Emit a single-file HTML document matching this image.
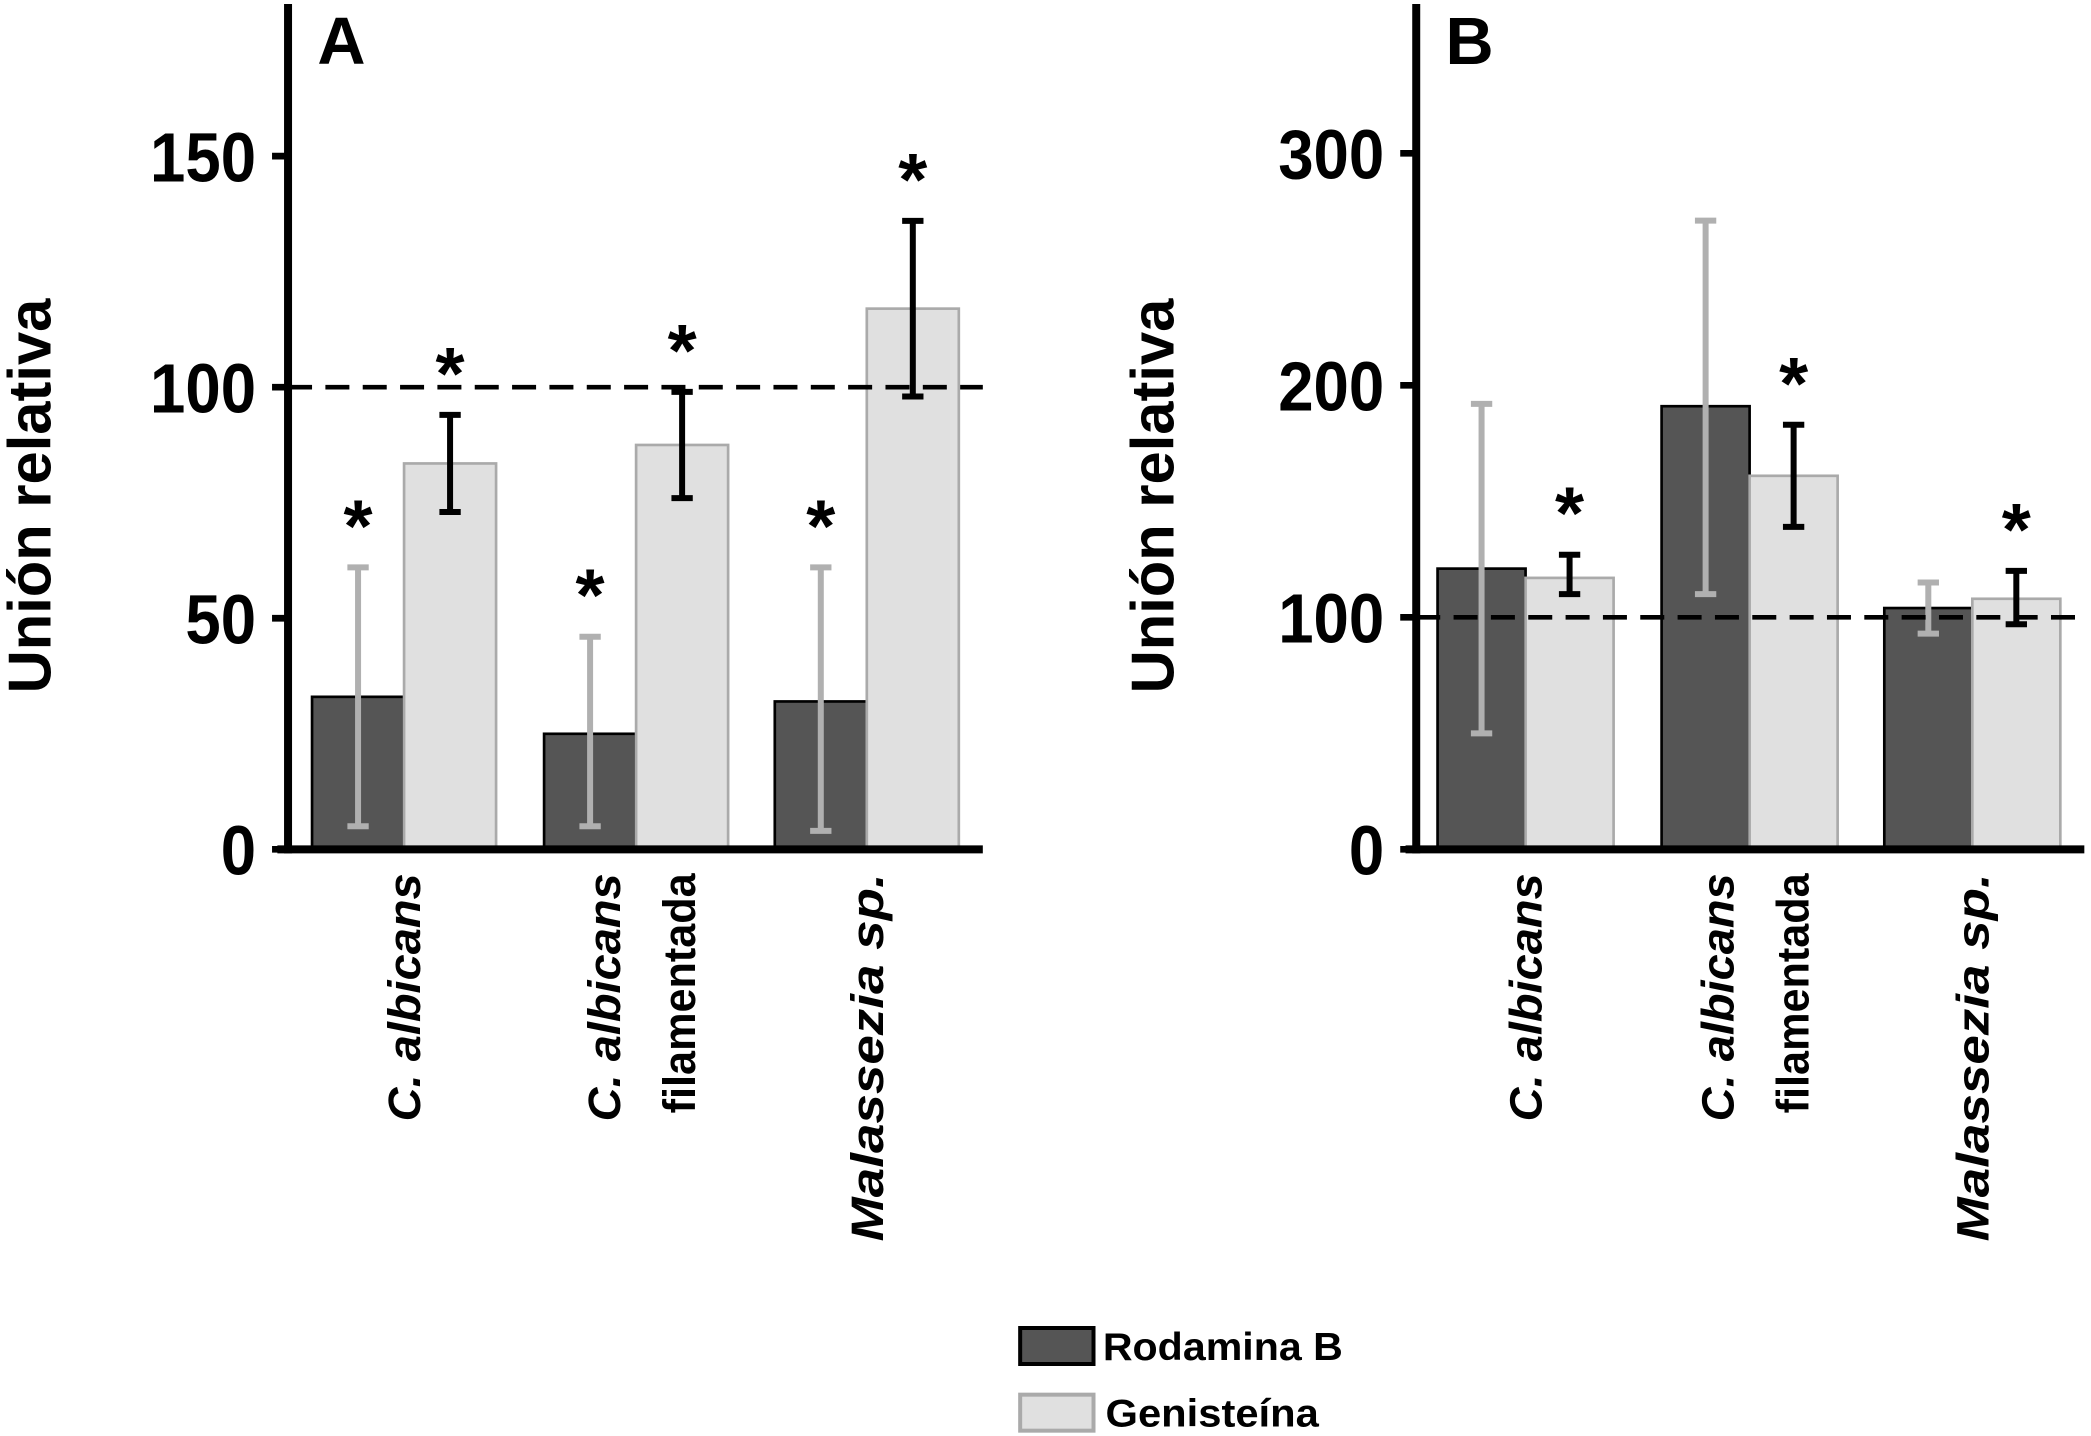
<!DOCTYPE html>
<html><head><meta charset="utf-8"><style>
html,body{margin:0;padding:0;background:#fff;}
svg{display:block;}
text{font-family:"Liberation Sans",Arial,sans-serif;font-weight:bold;fill:#000;}
</style></head><body>
<svg id="chart" width="2091" height="1436" viewBox="0 0 1568 1077" preserveAspectRatio="none" xmlns="http://www.w3.org/2000/svg">
<g id="legend">
  <rect x="765" y="996" width="55" height="27" fill="#555" stroke="#000" stroke-width="3"/>
  <text x="827" y="1020" font-size="29" textLength="180" lengthAdjust="spacingAndGlyphs">Rodamina B</text>
  <rect x="765" y="1046" width="55" height="27" fill="#e0e0e0" stroke="#aaa" stroke-width="3"/>
  <text x="829" y="1070" font-size="29" textLength="160" lengthAdjust="spacingAndGlyphs">Genisteína</text>
</g>
</svg>
<script>
const categories = ["C. albicans", "C. albicans filamentada", "Malassezia sp."];
const seriesNames = ["Rodamina B", "Genisteína"];
const aDark = [33, 25, 32];
const aDarkLo = [5, 5, 4];
const aDarkHi = [61, 46, 61];
const aLight = [83.5, 87.5, 117];
const aLightLo = [73, 76, 98];
const aLightHi = [94, 99, 136];
const aSig = [[true, true], [true, true], [true, true]];
const aTicks = [0, 50, 100, 150];
const bDark = [121, 191, 104];
const bDarkLo = [50, 110, 93];
const bDarkHi = [192, 271, 115];
const bLight = [117, 161, 108];
const bLightLo = [110, 139, 97];
const bLightHi = [127, 183, 120];
const bSig = [[false, true], [false, true], [false, true]];
const bTicks = [0, 100, 200, 300];
const refValue = 100;

const svg = document.getElementById('chart');
const NS = 'http://www.w3.org/2000/svg';
function mk(tag, attrs, parent) {
  const e = document.createElementNS(NS, tag);
  for (const k in attrs) e.setAttribute(k, attrs[k]);
  (parent || svg).appendChild(e);
  return e;
}
const labelLen = {"C. albicans": 186, "filamentada": 180, "Malassezia sp.": 276};

function panel(cfg) {
  const g = mk('g', {});
  
  
  const y = v => cfg.base - (v / cfg.unit) * cfg.unitPx;
  const series = [
    {vals: cfg.dark, lo: cfg.darkLo, hi: cfg.darkHi, fill: '#555', stroke: '#000', err: '#b0b0b0', name: 'rodamina'},
    {vals: cfg.light, lo: cfg.lightLo, hi: cfg.lightHi, fill: '#e0e0e0', stroke: '#aaa', err: '#000', name: 'genisteina'}
  ];
  categories.forEach((c, i) => {
    series.forEach((s, j) => {
      const x0 = cfg.groupX[i] + j * cfg.barW;
      const yt = y(s.vals[i]);
      const r = mk('rect', {x: x0, y: yt, width: cfg.barW, height: cfg.base - yt, fill: s.fill, stroke: s.stroke, 'stroke-width': 2}, g);
      
      
      const cx = x0 + cfg.barW / 2;
      const eg = mk('g', {stroke: s.err, 'stroke-width': 4.5, fill: 'none'}, g);
      
      
      mk('line', {x1: cx, x2: cx, y1: y(s.lo[i]), y2: y(s.hi[i])}, eg);
      mk('line', {x1: cx - 8, x2: cx + 8, y1: y(s.lo[i]), y2: y(s.lo[i])}, eg);
      mk('line', {x1: cx - 8, x2: cx + 8, y1: y(s.hi[i]), y2: y(s.hi[i])}, eg);
      if (cfg.sig[i][j]) {
        const t = mk('text', {x: cx, y: y(s.hi[i]) - 12, 'font-size': 56, 'text-anchor': 'middle'}, g);
        
        
        t.textContent = '*';
      }
    });
    const lines = c === 'C. albicans filamentada' ? [['C. albicans', true], ['filamentada', false]] : [[c, true]];
    const gx = cfg.groupX[i] + cfg.barW;
    lines.forEach((ln, k) => {
      const lx = gx + (lines.length === 1 ? 12 : -12 + k * 56);
      const t = mk('text', {x: 0, y: 0, 'font-size': 34, 'text-anchor': 'end',
        textLength: labelLen[ln[0]], lengthAdjust: 'spacingAndGlyphs',
        transform: 'translate(' + lx + ',' + (cfg.base + 18) + ') rotate(-90)'}, g);
      if (ln[1]) t.setAttribute('font-style', 'italic');
      
      
      t.textContent = ln[0];
    });
  });
  const rl = mk('line', {x1: cfg.axisX, x2: cfg.axisEnd, y1: y(refValue), y2: y(refValue), stroke: '#000', 'stroke-width': 3.5, 'stroke-dasharray': '18,10'}, g);
  
  
  const ya = mk('line', {x1: cfg.axisX, x2: cfg.axisX, y1: 3, y2: cfg.base + 3, stroke: '#000', 'stroke-width': 6}, g);
  
  
  const xa = mk('line', {x1: cfg.axisX - 8, x2: cfg.axisEnd, y1: cfg.base, y2: cfg.base, stroke: '#000', 'stroke-width': 6}, g);
  
  
  cfg.ticks.forEach(v => {
    mk('line', {x1: cfg.axisX - 12, x2: cfg.axisX, y1: y(v), y2: y(v), stroke: '#000', 'stroke-width': 5}, g);
    const s = String(v);
    const t = mk('text', {x: cfg.axisX - 24, y: y(v) + 19, 'font-size': 52, 'text-anchor': 'end', textLength: s.length * 26.5, lengthAdjust: 'spacingAndGlyphs'}, g);
    
    
    t.textContent = s;
  });
  const yt = mk('text', {x: 0, y: 0, 'font-size': 45, 'text-anchor': 'middle', textLength: 296, lengthAdjust: 'spacingAndGlyphs',
    transform: 'translate(' + cfg.titleX + ',372) rotate(-90)'}, g);
  
  
  yt.textContent = 'Unión relativa';
  const pl = mk('text', {x: cfg.axisX + 22, y: 48, 'font-size': 50}, g);
  
  
  pl.textContent = cfg.letter;
}

panel({letter: 'A', axisX: 216, axisEnd: 737, base: 637, unit: 50, unitPx: 173.3, barW: 69,
  groupX: [234, 408, 581], dark: aDark, darkLo: aDarkLo, darkHi: aDarkHi,
  light: aLight, lightLo: aLightLo, lightHi: aLightHi, sig: aSig, ticks: aTicks, titleX: 38});
panel({letter: 'B', axisX: 1062, axisEnd: 1563, base: 637, unit: 100, unitPx: 174, barW: 66,
  groupX: [1078, 1246, 1413], dark: bDark, darkLo: bDarkLo, darkHi: bDarkHi,
  light: bLight, lightLo: bLightLo, lightHi: bLightHi, sig: bSig, ticks: bTicks, titleX: 880});
</script>
</body></html>
